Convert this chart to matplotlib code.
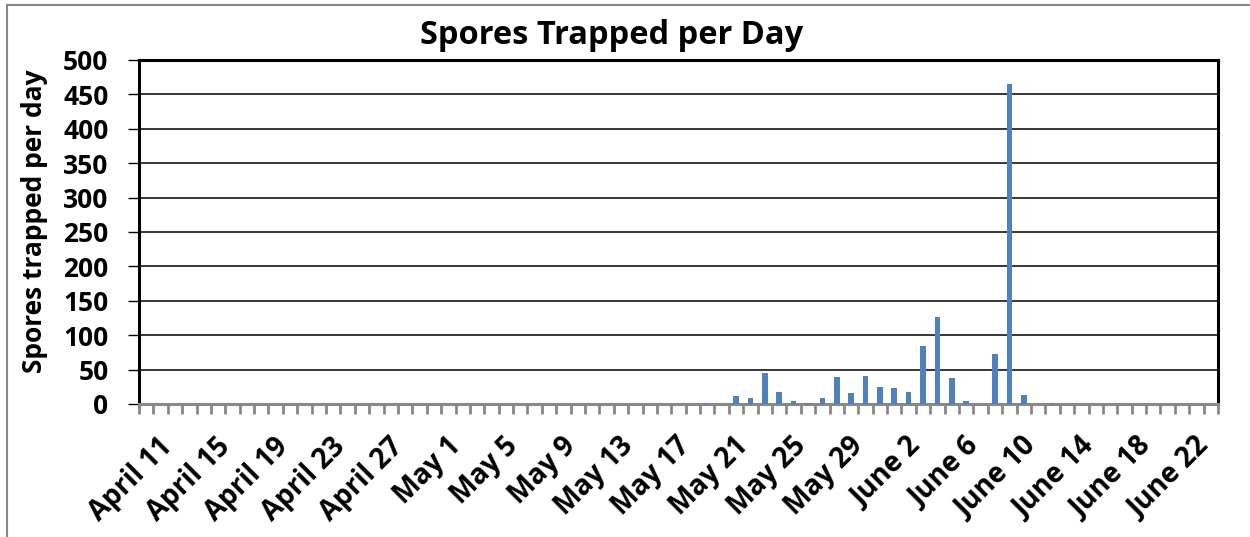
import matplotlib.pyplot as plt
import matplotlib.transforms as mtransforms
import numpy as np
import datetime as dt

plt.rcParams['font.family'] = ['Open Sans', 'DejaVu Sans']

# daily counts, April 11 .. June 24
start = dt.date(2013, 4, 11)
n_days = 75
days = [start + dt.timedelta(days=i) for i in range(n_days)]

spores = [0] * n_days
# (day index, count)
readings = {
    39: 1, 41: 12, 42: 9, 43: 45, 44: 17, 45: 5, 46: 2, 47: 8,
    48: 39, 49: 16, 50: 41, 51: 24, 52: 23, 53: 17, 54: 85,
    55: 126, 56: 38, 57: 5, 58: 0, 59: 72, 60: 465, 61: 13, 63: 1,
}
for k, v in readings.items():
    spores[k] = v

month_names = {4: 'April', 5: 'May', 6: 'June'}
tick_idx = list(range(0, n_days, 4))
tick_labels = [f"{month_names[days[i].month]} {days[i].day}" for i in tick_idx]

fig = plt.figure(figsize=(12.5, 5.37), dpi=100)
ax = fig.add_axes([0.1112, 0.2477, 0.9744 - 0.1112, 0.8883 - 0.2477])

x = np.arange(n_days)
ax.bar(x, spores, width=0.39, color='#4F81BD', zorder=3)

ax.set_xlim(-0.5, n_days - 0.5)
ax.set_ylim(0, 500)
ax.set_yticks(range(0, 501, 50))
ax.yaxis.grid(True, color='black', linewidth=1.1, zorder=0)

ax.set_xticks(tick_idx)
ax.set_xticklabels(tick_labels, rotation=45, ha='right', rotation_mode='anchor',
                   fontsize=20, fontweight='bold')
ax.set_xticks(np.arange(-0.5, n_days, 1), minor=True)
ax.tick_params(axis='x', which='major', length=0, pad=20)
ax.tick_params(axis='x', which='minor', length=7, width=2, color='#888888', direction='out')
ax.tick_params(axis='y', length=8, width=1, color='black', labelsize=19, pad=14)
for lbl in ax.get_yticklabels():
    lbl.set_fontweight('bold')

# nudge the slanted date labels a little to the right
shift = mtransforms.ScaledTranslation(12 / 100, 0, fig.dpi_scale_trans)
for lbl in ax.get_xticklabels():
    lbl.set_transform(lbl.get_transform() + shift)

for side in ['top', 'right', 'left']:
    ax.spines[side].set_color('black')
    ax.spines[side].set_linewidth(2.2)
ax.spines['bottom'].set_color('#888888')
ax.spines['bottom'].set_linewidth(2.2)

ax.set_ylabel('Spores trapped per day', fontsize=19, fontweight='bold', va='center')
ax.yaxis.set_label_coords(-0.0964, 0.53)
fig.text(612 / 1250, 1 - 35 / 537, 'Spores Trapped per Day', fontsize=23.5,
         fontweight='bold', ha='center', va='center')

# chart area border (only top and left visible in the crop)
fig.add_artist(plt.Line2D([7 / 1250, 7 / 1250], [0, 1 - 5 / 537], transform=fig.transFigure,
                          color='#888888', linewidth=1.5))
fig.add_artist(plt.Line2D([7 / 1250, 1], [1 - 5 / 537, 1 - 5 / 537], transform=fig.transFigure,
                          color='#888888', linewidth=1.5))

fig.savefig('out.png', dpi=100)
